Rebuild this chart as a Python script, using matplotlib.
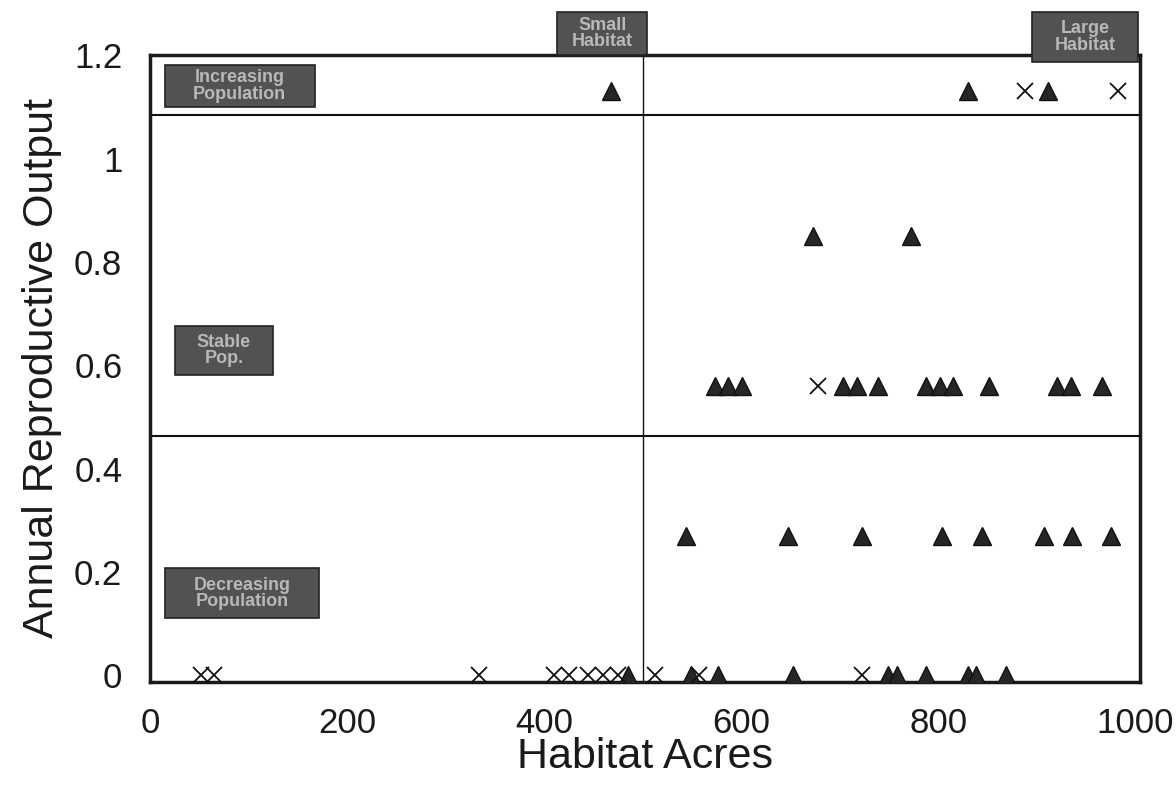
import matplotlib
matplotlib.use("Agg")
import matplotlib.pyplot as plt
from matplotlib.patches import Rectangle

plt.rcParams['font.family'] = ['Liberation Sans', 'DejaVu Sans']

# ---- data ----
tri_x = [468, 830, 912,
         673, 773,
         574, 587, 601, 703, 718, 739, 788, 802, 815, 852, 921, 935, 966,
         544, 648, 723, 804, 845, 908, 936, 976,
         485, 549, 577, 653, 749, 758, 788, 830, 839, 869]
tri_y = [1.13, 1.13, 1.13,
         0.85, 0.85,
         0.56, 0.56, 0.56, 0.56, 0.56, 0.56, 0.56, 0.56, 0.56, 0.56, 0.56, 0.56, 0.56,
         0.27, 0.27, 0.27, 0.27, 0.27, 0.27, 0.27, 0.27,
         0, 0, 0, 0, 0, 0, 0, 0, 0, 0]
cross_x = [888, 983, 678, 52, 65, 334, 410, 425, 445, 460, 475, 513, 557, 723]
cross_y = [1.13, 1.13, 0.56, 0, 0, 0, 0, 0, 0, 0, 0, 0, 0, 0]

x_ticks = [0, 200, 400, 600, 800, 1000]
y_ticks = [0, 0.2, 0.4, 0.6, 0.8, 1.0, 1.2]
y_tick_labels = ["0", "0.2", "0.4", "0.6", "0.8", "1", "1.2"]

split_x = 500
split_y = [0.463, 1.085]

box_labels = ["Increasing\nPopulation", "Stable\nPop.", "Decreasing\nPopulation",
              "Small\nHabitat", "Large\nHabitat"]
# label boxes: (x0, x1, y0, y1) in data units
box_extents = [(15, 167, 1.100, 1.181),
               (25, 125, 0.582, 0.676),
               (15, 172, 0.111, 0.207),
               (413, 505, 1.200, 1.283),
               (895, 1003, 1.187, 1.283)]

# ---- figure ----
fig = plt.figure(figsize=(11.76, 7.88), dpi=100)
ax = fig.add_axes([0.1276, 0.135, 0.8418, 0.795])

ax.plot(tri_x, tri_y, linestyle='none', marker='^', markersize=13,
        color='#262626', markeredgecolor='#111111', zorder=4)
ax.plot(cross_x, cross_y, linestyle='none', marker='x', markersize=12,
        markeredgewidth=1.3, color='#111111', zorder=4)

ax.axvline(split_x, color='#111111', linewidth=1.0, zorder=2)
for yy in split_y:
    ax.axhline(yy, color='#111111', linewidth=1.5, zorder=2)

ax.set_xlim(0, 1005)
ax.set_ylim(-0.012, 1.2)
ax.set_xticks(x_ticks)
ax.set_xticklabels([str(v) for v in x_ticks])
ax.set_yticks(y_ticks)
ax.set_yticklabels(y_tick_labels)
ax.tick_params(axis='both', length=0, labelsize=25, colors='#1a1a1a')
ax.tick_params(axis='x', pad=18)
ax.tick_params(axis='y', pad=20)
for s in ax.spines.values():
    s.set_linewidth(2.5)
    s.set_color('#1a1a1a')

ax.set_xlabel("Habitat Acres", fontsize=31, color='#1a1a1a', labelpad=-2)
ax.set_ylabel("Annual Reproductive Output", fontsize=31, color='#1a1a1a', labelpad=9)

for (x0, x1, y0, y1), lab in zip(box_extents, box_labels):
    r = Rectangle((x0, y0), x1 - x0, y1 - y0, facecolor='#525252',
                  edgecolor='#222222', linewidth=1.2, zorder=6, clip_on=False)
    ax.add_patch(r)
    ax.text((x0 + x1) / 2, (y0 + y1) / 2, lab, ha='center', va='center',
            fontsize=13, fontweight='bold', color='#b8b8b8', linespacing=0.95,
            zorder=7, clip_on=False)

fig.savefig("out.png", dpi=100, facecolor='white')
